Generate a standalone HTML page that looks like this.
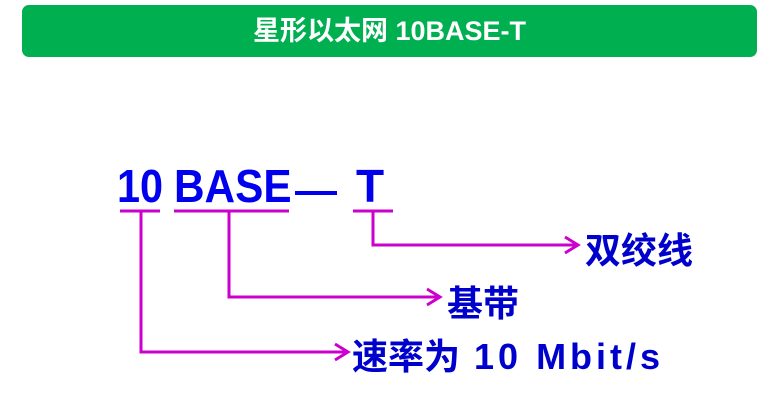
<!DOCTYPE html>
<html><head><meta charset="utf-8"><style>
body{margin:0;width:779px;height:403px;background:#fff;position:relative;overflow:hidden;font-family:"Liberation Sans","Noto Sans CJK SC",sans-serif}
.hdr{position:absolute;left:22px;top:5px;width:735px;height:52px;background:#00b050;border-radius:7px;color:#fff;font-weight:bold;font-size:27px;text-align:center;line-height:52px}
.t{position:absolute;font-weight:bold;color:#0000ee;white-space:nowrap;font-size:46px;line-height:1;transform-origin:left top}
.l{position:absolute;font-weight:bold;color:#0000cc;font-size:36px;white-space:nowrap;line-height:1}
</style></head><body>
<div class="hdr">星形以太网 10BASE-T</div>
<div class="t" style="left:117px;top:163px;transform:scaleX(0.9)">10</div>
<div class="t" style="left:174px;top:163px;transform:scaleX(0.92)">BASE</div>
<div class="t" style="left:356px;top:163px">T</div>
<div style="position:absolute;left:295px;top:191px;width:42px;height:4px;background:#0000ee"></div>
<svg width="779" height="403" style="position:absolute;left:0;top:0" fill="none" stroke="#cc00cc" stroke-width="3">
<line x1="120" y1="211" x2="160" y2="211"/>
<line x1="174" y1="211" x2="289" y2="211"/>
<line x1="353" y1="211" x2="393" y2="211"/>
<polyline points="373,211 373,245 577,245"/>
<polyline points="565,237 578,245 565,253"/>
<polyline points="229,211 229,297 439,297"/>
<polyline points="427,289 440,297 427,305"/>
<polyline points="141,211 141,352 347,352"/>
<polyline points="335,344 348,352 335,360"/>
</svg>
<div class="l" style="left:585px;top:233px">双绞线</div>
<div class="l" style="left:447px;top:286px">基带</div>
<div class="l" style="left:352px;top:339px">速率为<span style="letter-spacing:4px"> 10 Mbit/s</span></div>
</body></html>
